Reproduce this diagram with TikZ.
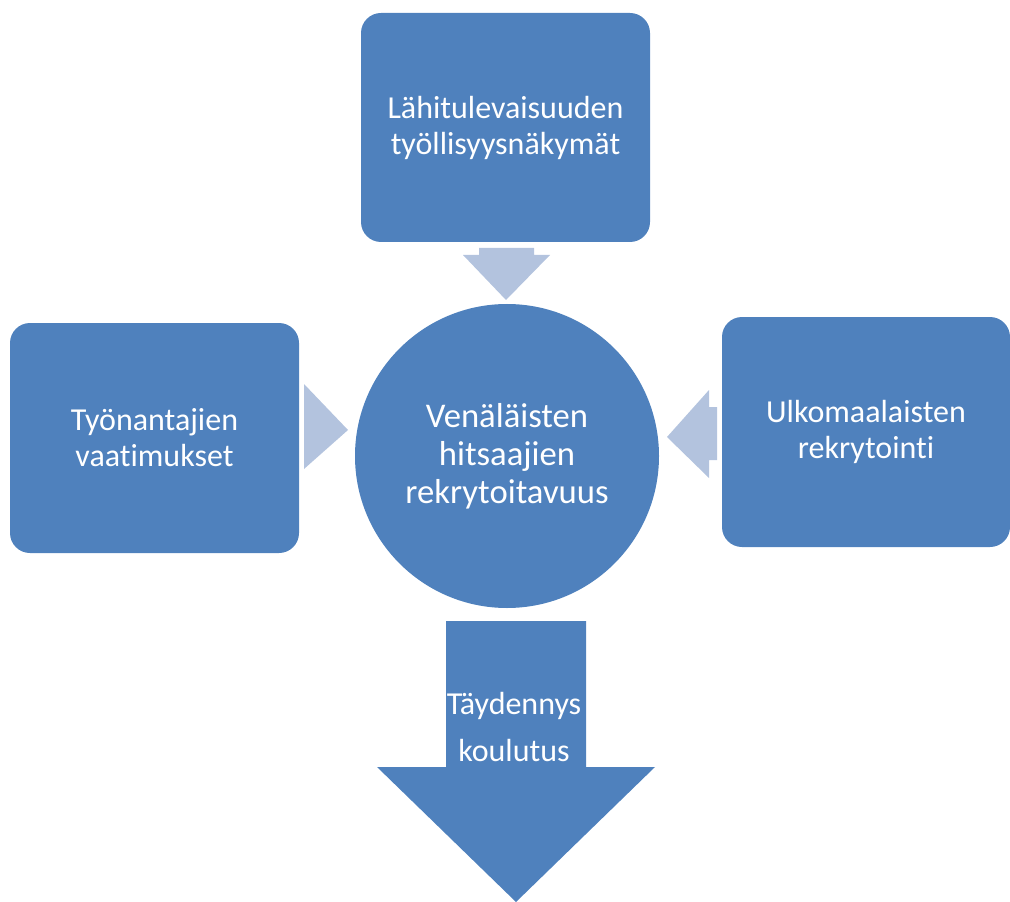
\documentclass[tikz,border=0pt]{standalone}
\usepackage{fontspec}
\setsansfont[Ligatures=NoCommon]{Carlito}
\definecolor{boxblue}{HTML}{4F81BD}
\definecolor{lightblue}{HTML}{B3C3DE}
\tikzset{every picture/.style={/utils/exec={\sffamily}}}
\usetikzlibrary{calc}
\usetikzlibrary{positioning}

\begin{document}
\begin{tikzpicture}[x=0.75pt,y=-0.75pt,
  txt/.style={text=white,align=center,font=\fontsize{24}{27}\selectfont},
  sqbox/.style={txt,fill=boxblue,rounded corners=15pt,inner sep=0pt},
  pointer/.style={fill=lightblue}]
  \useasboundingbox (0,0) rectangle (1010,902);

  \node [circle, txt, fill=boxblue, minimum size=228pt, inner sep=0pt,
    font=\fontsize{26}{28.5}\selectfont] (center) at (507,456)
    {Venäläisten\\hitsaajien\\rekrytoitavuus};

  \node [sqbox, minimum width=216.75pt, minimum height=171.75pt] (outlook) at (505.5,127.5)
    {Lähitulevaisuuden\\työllisyysnäkymät};
  \node [sqbox, minimum width=216.75pt, minimum height=172.5pt] (employers) at (154.5,438)
    {Työnantajien\\vaatimukset};
  \node [sqbox, minimum width=216pt, minimum height=172.5pt] (foreign) at (866,432)
    {Ulkomaalaisten\\rekrytointi};

  % light arrows into the circle
  \fill [pointer] (479,248) -- (534,248) -- (534,255) -- (550,255) -- (506,300)
    -- (463,255) -- (479,255) -- cycle;
  \fill [pointer] (304,384) -- (348,430) -- (304,469) -- cycle;
  \fill [pointer] (709,390) -- (709,407) -- (717,407) -- (717,460) -- (709,460)
    -- (709,478) -- (667,437) -- cycle;

  % big arrow out of the circle
  \fill [boxblue] (446,621) -- (586,621) -- (586,767) -- (655,767) -- (516,902)
    -- (377,767) -- (446,767) -- cycle;
  \node [txt, font=\fontsize{24}{35}\selectfont] (training) at (514,727)
    {Täydennys\\koulutus};

\end{tikzpicture}
\end{document}
